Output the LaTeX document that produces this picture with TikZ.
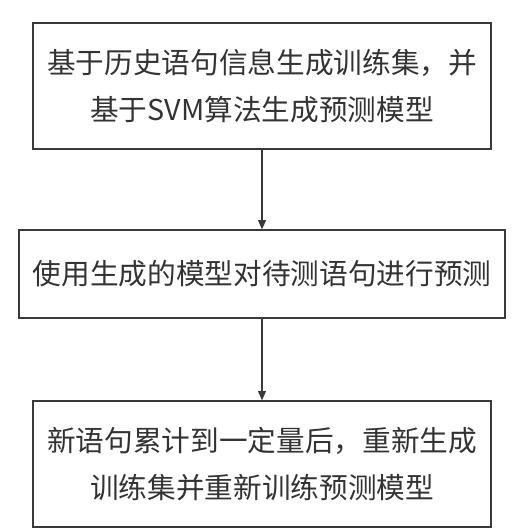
\documentclass[tikz,border=0pt]{standalone}
\usepackage{fontspec}
\usepackage{tikz}
\usetikzlibrary{arrows.meta, positioning}
\newfontfamily\cjk{Noto Sans CJK SC}
\definecolor{boxline}{HTML}{3A3A3A}
\definecolor{boxtext}{HTML}{333333}
\tikzset{
  stepbox/.style={draw=boxline, line width=1pt, align=center, text=boxtext,
    font=\cjk\fontsize{21.5pt}{35.5pt}\selectfont, inner sep=0pt},
  flow/.style={draw=boxline, line width=0.8pt, -{Triangle[length=7pt, width=6pt]}}
}
\begin{document}
\begin{tikzpicture}[x=0.75pt, y=-0.75pt]
\useasboundingbox (0,0) rectangle (529,532);
\node[stepbox, minimum width=343.5pt, minimum height=94.5pt] (train) at (262,86) {基于历史语句信息生成训练集，并\\基于SVM算法生成预测模型}; %training
\node[stepbox, minimum width=364.5pt, minimum height=66pt] (predict) at (262,274) {使用生成的模型对待测语句进行预测}; %prediction
\node[stepbox, minimum width=343.5pt, minimum height=94.5pt] (retrain) at (262,464) {新语句累计到一定量后，重新生成\\训练集并重新训练预测模型}; %retraining
\draw[flow] (train) -- (predict);
\draw[flow] (predict) -- (retrain);
\end{tikzpicture}
\end{document}
